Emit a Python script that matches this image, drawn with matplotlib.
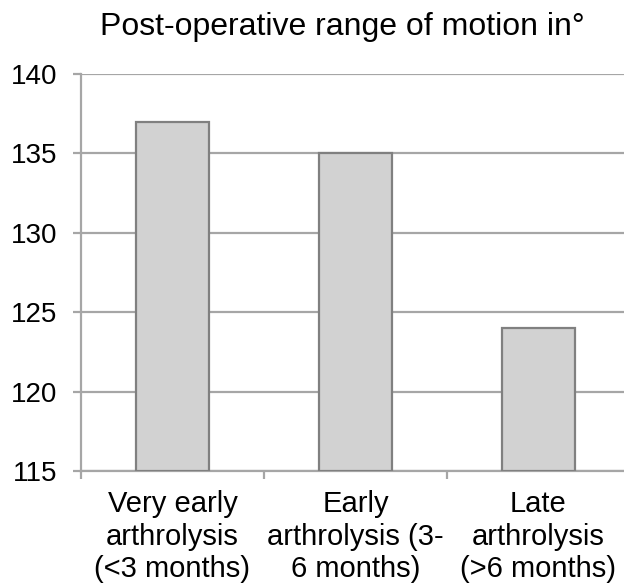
import matplotlib
matplotlib.use("Agg")
import matplotlib.pyplot as plt

categories = ["Very early\narthrolysis\n(<3 months)", "Early\narthrolysis (3-\n6 months)", "Late\narthrolysis\n(>6 months)"]
values = [137, 135, 124]
yticks = [115, 120, 125, 130, 135, 140]
title = "Post-operative range of motion in°"

plt.rcParams['font.family'] = ['Liberation Sans', 'DejaVu Sans']

fig = plt.figure(figsize=(6.24, 5.87), dpi=100)
W, H = 624, 587
left, right, top, bottom = 81, 630, 74, 471
ax = fig.add_axes([left / W, 1 - bottom / H, (right - left) / W, (bottom - top) / H])

x = list(range(len(values)))
ax.bar(x, [v - yticks[0] for v in values], bottom=yticks[0], width=0.4,
       color="#D2D2D2", edgecolor="#808080", linewidth=1.6, zorder=3)

ax.set_xlim(-0.5, len(values) - 0.5)
ax.set_ylim(yticks[0], yticks[-1])
ax.set_yticks(yticks)
ax.set_yticklabels([str(t) for t in yticks], fontsize=20)
ax.yaxis.grid(True, color="#A6A6A6", linewidth=1.6, zorder=0)
ax.set_axisbelow(True)

ax.set_xticks([i - 0.5 for i in range(len(values) + 1)])
ax.set_xticklabels([])
ax.set_xticks(x, minor=True)
ax.set_xticklabels(categories, minor=True, fontsize=21, linespacing=1.2)
ax.tick_params(axis='x', which='minor', length=0, pad=14)
ax.tick_params(axis='x', which='major', length=6, width=1.6, color="#A6A6A6")
ax.tick_params(axis='y', length=6, width=1.6, color="#A6A6A6", pad=11)

for s in ['top', 'right']:
    ax.spines[s].set_visible(False)
for s in ['left', 'bottom']:
    ax.spines[s].set_color("#A6A6A6")
    ax.spines[s].set_linewidth(1.6)

fig.text(342 / W, 1 - 35 / H, title, fontsize=23, ha='center', va='baseline')

fig.savefig("out.png", dpi=100)
